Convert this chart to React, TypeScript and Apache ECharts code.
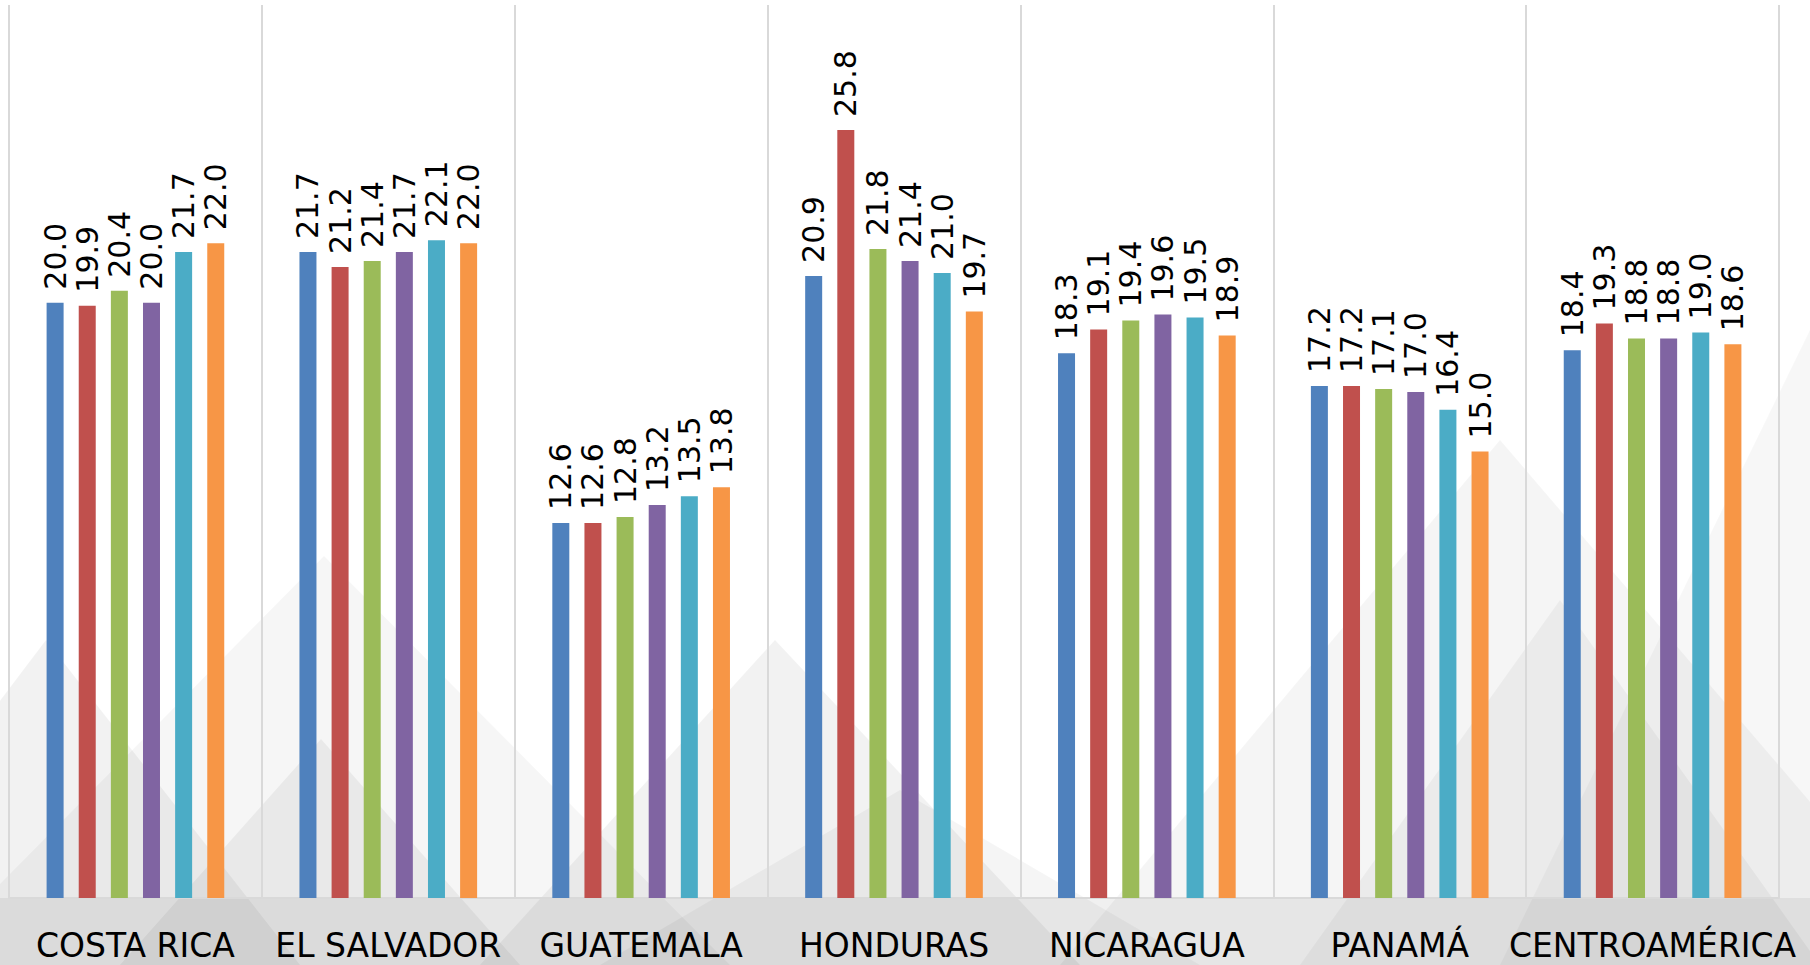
import React, { useEffect, useRef } from "react";
import * as echarts from "echarts";

const categories = ["COSTA RICA", "EL SALVADOR", "GUATEMALA", "HONDURAS", "NICARAGUA", "PANAMÁ", "CENTROAMÉRICA"];
const seriesNames = ["Serie 1", "Serie 2", "Serie 3", "Serie 4", "Serie 5", "Serie 6"];
const serie1 = [20.0, 21.7, 12.6, 20.9, 18.3, 17.2, 18.4];
const serie2 = [19.9, 21.2, 12.6, 25.8, 19.1, 17.2, 19.3];
const serie3 = [20.4, 21.4, 12.8, 21.8, 19.4, 17.1, 18.8];
const serie4 = [20.0, 21.7, 13.2, 21.4, 19.6, 17.0, 18.8];
const serie5 = [21.7, 22.1, 13.5, 21.0, 19.5, 16.4, 19.0];
const serie6 = [22.0, 22.0, 13.8, 19.7, 18.9, 15.0, 18.6];
const seriesValues = [serie1, serie2, serie3, serie4, serie5, serie6];
const colors = ["#4F81BD", "#C0504D", "#9BBB59", "#8064A2", "#4BACC6", "#F79646"];

const tri = (pts: number[][], a: number) => ({
  type: "polygon",
  z: -1,
  silent: true,
  shape: { points: pts },
  style: { fill: `rgba(0,0,0,${a})` },
});

export default function App() {
  const ref = useRef<HTMLDivElement>(null);
  useEffect(() => {
    if (!ref.current) return;
    const chart = echarts.init(ref.current, null, { renderer: "svg" });
    chart.setOption({
      animation: false,
      backgroundColor: "#ffffff",
      graphic: [
        tri([[-200, 965], [46, 640], [300, 965]], 0.05),
        tri([[-80, 965], [324, 556], [730, 965]], 0.035),
        tri([[120, 965], [321, 739], [520, 965]], 0.05),
        tri([[480, 965], [775, 640], [1080, 965]], 0.05),
        tri([[600, 965], [900, 790], [1200, 965]], 0.04),
        tri([[1060, 965], [1500, 440], [1950, 965]], 0.04),
        tri([[1300, 965], [1560, 600], [1820, 965]], 0.04),
        tri([[1810, 330], [1810, 965], [1500, 965]], 0.03),
        {
          type: "rect",
          z: -1,
          silent: true,
          shape: { x: 0, y: 898, width: 1810, height: 67 },
          style: { fill: "rgba(0,0,0,0.06)" },
        },
      ],
      grid: { left: 9, right: 31, top: 5, bottom: 67, containLabel: false },
      xAxis: {
        type: "category",
        data: categories,
        axisLine: { show: true, lineStyle: { color: "#d9d9d9", width: 2 } },
        axisTick: { show: false },
        splitLine: { show: true, lineStyle: { color: "#d9d9d9", width: 2 } },
        axisLabel: {
          margin: 32,
          fontSize: 33,
          lineHeight: 30,
          fontFamily: "DejaVu Sans",
          color: "#000000",
          interval: 0,
        },
      },
      yAxis: {
        type: "value",
        min: 0,
        max: 30,
        show: false,
        splitLine: { show: false },
      },
      series: seriesValues.map((vals, i) => ({
        name: seriesNames[i],
        type: "bar",
        data: vals,
        barWidth: 17,
        barGap: "89%",
        itemStyle: { color: colors[i] },
        label: {
          show: true,
          position: "top",
          rotate: 90,
          align: "left",
          verticalAlign: "middle",
          distance: 13,
          fontSize: 30,
          fontFamily: "DejaVu Sans",
          color: "#000000",
          formatter: (p: any) => Number(p.value).toFixed(1),
        },
      })),
    });
    return () => chart.dispose();
  }, []);
  return (
    <div
      ref={ref}
      style={{ position: "fixed", left: 0, top: 0, width: 1810, height: 965 }}
    />
  );
}
